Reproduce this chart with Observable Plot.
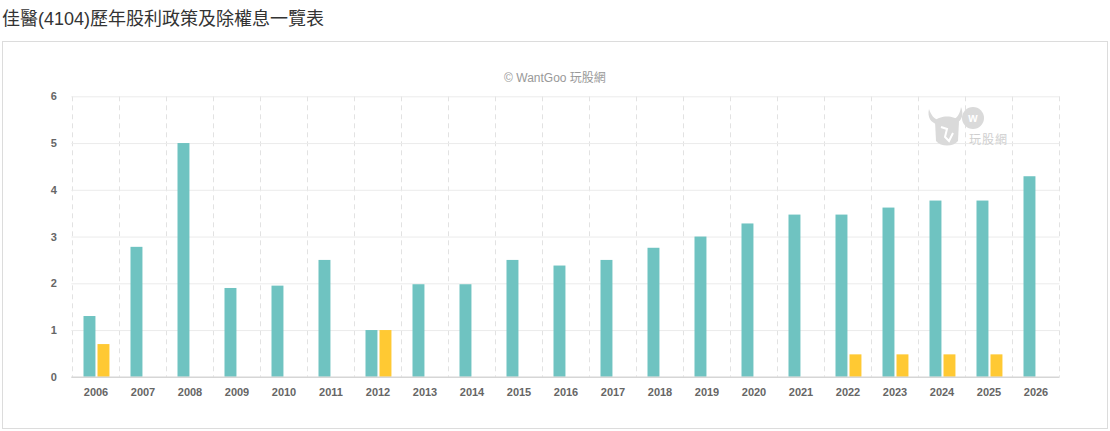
<!DOCTYPE html>
<html>
<head>
<meta charset="utf-8">
<script src="https://cdn.jsdelivr.net/npm/d3@7"></script>
<script src="https://cdn.jsdelivr.net/npm/@observablehq/plot@0.6"></script>
<style>
  html, body { margin: 0; padding: 0; background: #fff; }
  body { width: 1110px; height: 431px; position: relative; overflow: hidden; }
  #title { position: absolute; left: 2px; top: 7px; font: 18px/24px "Liberation Sans", Arial, "Noto Sans CJK TC", sans-serif; color: #333; white-space: nowrap; }
  #box { position: absolute; left: 2px; top: 41px; width: 1106px; height: 388px; box-sizing: border-box; border: 1px solid #dcdcdc; }
  #credit { position: absolute; left: 0; top: 29px; width: 100%; text-align: center; font: 12px/14px "Liberation Sans", Arial, "Noto Sans CJK TC", sans-serif; color: #999; }
  #chart { position: absolute; left: 0; top: 0; }
  #logo { position: absolute; left: 925px; top: 103px; }
</style>
</head>
<body>
<div id="title">佳醫(4104)歷年股利政策及除權息一覽表</div>
<div id="box">
  <div id="chart"></div>
  <div id="credit">© WantGoo 玩股網</div>
</div>
<svg id="logo" width="95" height="46" viewBox="0 0 95 46">
  <g fill="#dadada">
    <path d="M4 6 C2 14 6 20 12 21 L14 17 C9 16 6 12 4 6 Z"/>
    <path d="M36 4 C39 11 37 18 31 20 L29 16 C33 14 35 10 36 4 Z"/>
    <path d="M10 18 C14 12 30 12 34 18 L33 38 C28 44 16 44 11 38 Z"/>
    <circle cx="48" cy="15" r="11"/>
  </g>
  <path d="M16 24 L22 26 L20 34 L24 38 L28 30" fill="none" stroke="#fff" stroke-width="2"/>
  <text x="48" y="19" text-anchor="middle" font-family="Liberation Sans, Arial" font-weight="bold" font-size="12" fill="#fff">w</text>
  <text x="44" y="41" font-family="Noto Sans CJK TC, sans-serif" font-size="12" fill="#cfcfcf" letter-spacing="1">玩股網</text>
</svg>
<script>
const years = ["2006","2007","2008","2009","2010","2011","2012","2013","2014","2015","2016","2017","2018","2019","2020","2021","2022","2023","2024","2025","2026"];
const cashDividend = [1.3, 2.78, 5.0, 1.9, 1.95, 2.5, 1.0, 1.98, 1.98, 2.5, 2.38, 2.5, 2.76, 3.0, 3.28, 3.47, 3.47, 3.62, 3.77, 3.77, 4.29];
const stockDividend = [0.7, 0, 0, 0, 0, 0, 1.0, 0, 0, 0, 0, 0, 0, 0, 0, 0, 0.48, 0.48, 0.48, 0.48, 0];
const yTicks = [0, 1, 2, 3, 4, 5, 6];

const rows = years.map((year, i) => ({year, cash: cashDividend[i], stock: stockDividend[i]}));

const W = 1103, H = 386;
const mL = 68.3, mR = 46.5, mT = 54.3, mB = 51.2;
const step = (W - mL - mR) / years.length;
const barW = 12, gap = 2, leftInset = 11.5;

const chart = Plot.plot({
  width: W,
  height: H,
  marginLeft: mL,
  marginRight: mR,
  marginTop: mT,
  marginBottom: mB,
  style: {fontFamily: "'Liberation Sans', Arial, sans-serif", fontSize: "11px", fontWeight: "bold", color: "#666", background: "transparent"},
  x: {type: "band", domain: years, padding: 0, label: null, tickSize: 0, tickPadding: 11},
  y: {domain: [0, 6], ticks: yTicks, tickFormat: d3.format("d"), label: null, tickSize: 0, tickPadding: 15},
  marks: [
    Plot.ruleX(years, {x: d => d, dx: -step / 2, stroke: "#e2e2e2", strokeDasharray: "5,4", strokeOpacity: 1}),
    Plot.ruleX(years.slice(-1), {x: d => d, dx: step / 2, stroke: "#e2e2e2", strokeDasharray: "5,4", strokeOpacity: 1}),
    Plot.ruleY(yTicks.filter(d => d > 0), {y: d => d, stroke: "#ececec", strokeOpacity: 1}),
    Plot.barY(rows, {x: "year", y: "cash", fill: "#6fc3c1", insetLeft: leftInset, insetRight: step - leftInset - barW}),
    Plot.barY(rows.filter(d => d.stock > 0), {x: "year", y: "stock", fill: "#ffc933", insetLeft: leftInset + barW + gap, insetRight: step - leftInset - 2 * barW - gap}),
    Plot.ruleY([0], {stroke: "#d6d6d6", strokeWidth: 1.5, strokeOpacity: 1})
  ]
});
document.getElementById("chart").appendChild(chart);
</script>
</body>
</html>
